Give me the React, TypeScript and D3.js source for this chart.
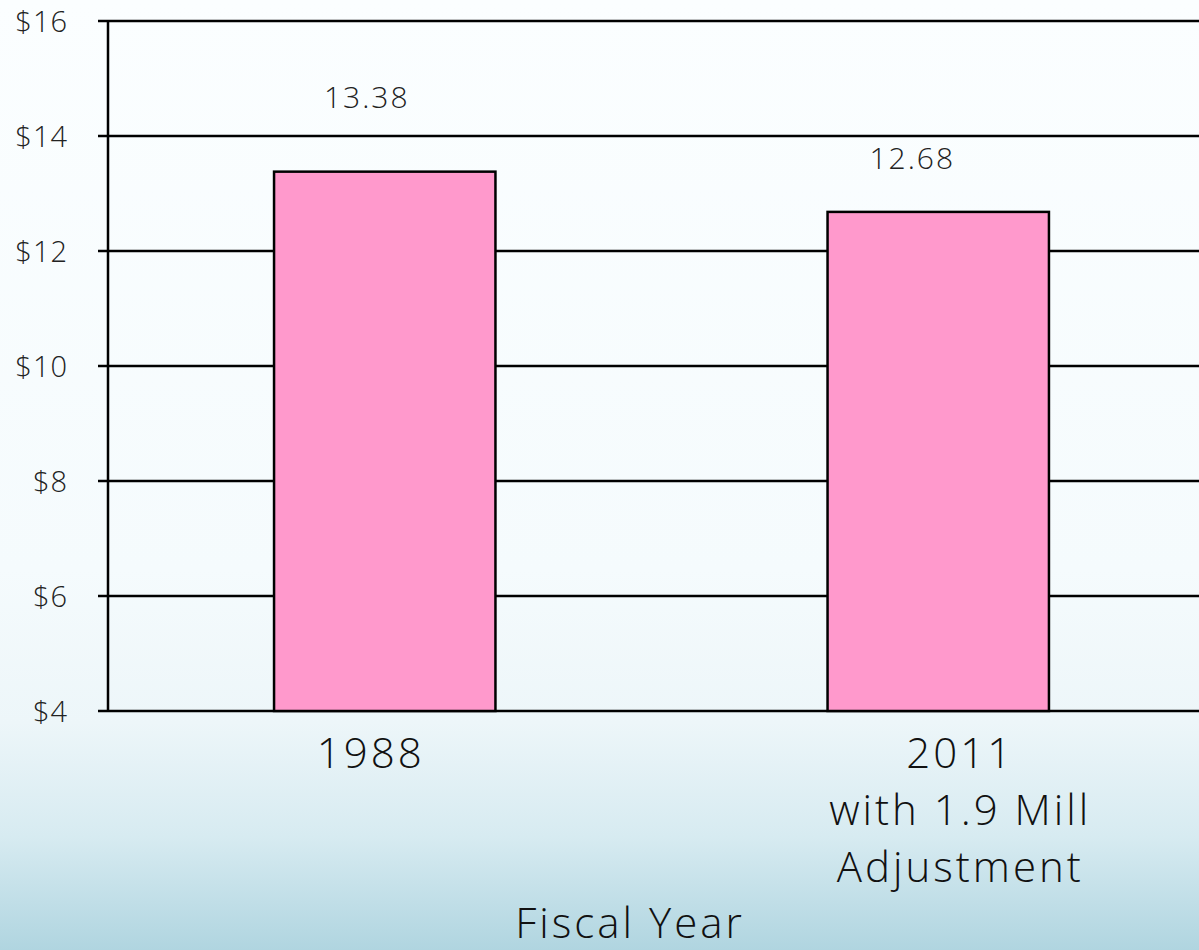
import { useEffect, useRef } from 'react';
import * as d3 from 'd3';

const categories = ['1988', '2011'];
const categoryLines = [['1988'], ['2011', 'with 1.9 Mill', 'Adjustment']];
const values = [13.38, 12.68];
const valueLabels = ['13.38', '12.68'];
const yTicks = [4, 6, 8, 10, 12, 14, 16];
const axisTitle = 'Fiscal Year';

const WIDTH = 1199;
const HEIGHT = 950;
const FONT = '"Open Sans", Lato, "DejaVu Sans", sans-serif';

const App = () => {
  const svgRef = useRef<SVGSVGElement>(null);

  useEffect(() => {
    document.body.style.margin = '0';
    if (!svgRef.current) return;

    const svg = d3.select(svgRef.current);
    svg.selectAll('*').remove();

    const margin = { top: 21, left: 108, bottom: 240 };
    const plotBottom = HEIGHT - margin.bottom + 1;

    // Background gradient
    const defs = svg.append('defs');
    const grad = defs.append('linearGradient')
      .attr('id', 'bg')
      .attr('x1', 0).attr('y1', 0).attr('x2', 0).attr('y2', 1);
    [
      { o: 0, c: '#fbfeff' },
      { o: 0.6, c: '#f5fbfd' },
      { o: 0.76, c: '#edf6f9' },
      { o: 0.88, c: '#d7ebf1' },
      { o: 1, c: '#b0d5e0' }
    ].forEach(s => grad.append('stop').attr('offset', s.o).attr('stop-color', s.c));

    svg.append('rect')
      .attr('width', WIDTH)
      .attr('height', HEIGHT)
      .attr('fill', 'url(#bg)');

    const x = d3.scaleBand()
      .domain(categories)
      .range([margin.left, 1215])
      .paddingInner(0.6)
      .paddingOuter(0.3);

    const y = d3.scaleLinear()
      .domain([4, 16])
      .range([plotBottom, margin.top]);

    // Gridlines
    svg.append('g')
      .selectAll('line')
      .data(yTicks)
      .enter()
      .append('line')
      .attr('x1', margin.left - 10)
      .attr('x2', WIDTH)
      .attr('y1', d => y(d))
      .attr('y2', d => y(d))
      .attr('stroke', '#000')
      .attr('stroke-width', 2.5);

    // Y axis line
    svg.append('line')
      .attr('x1', margin.left)
      .attr('x2', margin.left)
      .attr('y1', y(16))
      .attr('y2', y(4))
      .attr('stroke', '#000')
      .attr('stroke-width', 2.5);

    // Y tick labels
    svg.append('g')
      .selectAll('text')
      .data(yTicks)
      .enter()
      .append('text')
      .attr('x', 68)
      .attr('y', d => y(d) + 11)
      .attr('text-anchor', 'end')
      .attr('font-family', FONT)
      .attr('font-weight', 300)
      .attr('font-size', 29)
      .attr('letter-spacing', 1)
      .attr('fill', '#222')
      .text(d => `$${d}`);

    // Bars
    svg.append('g')
      .selectAll('rect')
      .data(values)
      .enter()
      .append('rect')
      .attr('x', (_, i) => x(categories[i]) || 0)
      .attr('y', d => y(d))
      .attr('width', x.bandwidth())
      .attr('height', d => y(4) - y(d))
      .attr('fill', '#ff99cc')
      .attr('stroke', '#000')
      .attr('stroke-width', 2.5);

    // Value labels
    const valueDx = [-18, -26];
    const valueDy = [-64, -43];
    svg.append('g')
      .selectAll('text')
      .data(values)
      .enter()
      .append('text')
      .attr('x', (_, i) => (x(categories[i]) || 0) + x.bandwidth() / 2 + valueDx[i])
      .attr('y', (d, i) => y(d) + valueDy[i])
      .attr('text-anchor', 'middle')
      .attr('font-family', FONT)
      .attr('font-weight', 300)
      .attr('font-size', 30)
      .attr('letter-spacing', 2)
      .attr('fill', '#222')
      .text((_, i) => valueLabels[i]);

    // Category labels
    const catDx = [-14, 22];
    categoryLines.forEach((lines, i) => {
      const cx = (x(categories[i]) || 0) + x.bandwidth() / 2 + catDx[i];
      lines.forEach((line, j) => {
        svg.append('text')
          .attr('x', cx)
          .attr('y', 768 + j * 57)
          .attr('text-anchor', 'middle')
          .attr('font-family', FONT)
          .attr('font-weight', 300)
          .attr('font-size', 42)
          .attr('letter-spacing', 3)
          .attr('fill', '#111')
          .text(line);
      });
    });

    // Axis title
    svg.append('text')
      .attr('x', 630)
      .attr('y', 938)
      .attr('text-anchor', 'middle')
      .attr('font-family', FONT)
      .attr('font-weight', 300)
      .attr('font-size', 42)
      .attr('letter-spacing', 3)
      .attr('fill', '#111')
      .text(axisTitle);
  }, []);

  return <svg ref={svgRef} width={WIDTH} height={HEIGHT} style={{ display: 'block' }} />;
};

export default App;
